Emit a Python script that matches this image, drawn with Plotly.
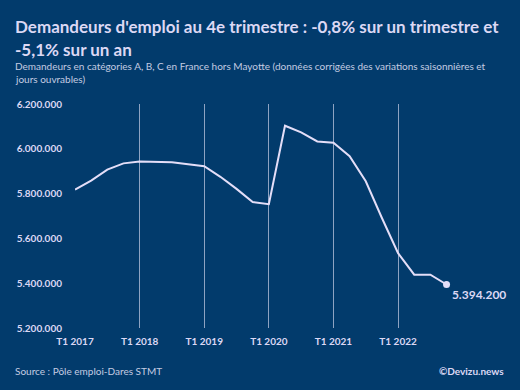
import plotly.graph_objects as go

quarters = [f"T{q} {y}" for y in range(2017, 2023) for q in range(1, 5)]
values = [5818000, 5858000, 5907000, 5935000, 5943000, 5940000, 5940000, 5931000,
          5922000, 5875000, 5821000, 5762000, 5753000, 6103000, 6073000, 6033000,
          6027000, 5967000, 5855000, 5691000, 5534000, 5438000, 5438000, 5394200]
tick_labels = ["T1 2017", "T1 2018", "T1 2019", "T1 2020", "T1 2021", "T1 2022"]
y_ticks = [5200000, 5400000, 5600000, 5800000, 6000000, 6200000]

BG = "#023b6c"
LINE = "#e4def8"
TXT = "#dcd8f4"
FONT = "Lato"

fig = go.Figure()
fig.add_trace(go.Scatter(x=quarters, y=values, mode="lines",
                         line=dict(color=LINE, width=2), hoverinfo="skip"))
fig.add_trace(go.Scatter(x=[quarters[-1]], y=[values[-1]], mode="markers+text",
                         marker=dict(color=LINE, size=7),
                         text=["5.394.200"], textposition="bottom right",
                         textfont=dict(family=FONT, size=12, color=TXT, weight="bold"),
                         cliponaxis=False, hoverinfo="skip"))

W, H = 520, 390
ml, mr, mt, mb = 75, 25, 104, 62
pw = W - ml - mr
ph = H - mt - mb

def px(x):
    return (x - ml) / pw

def py(y):
    return (H - mb - y) / ph

def note(text, x, y, size, color, bold=False, xanchor="left", yanchor="middle"):
    return dict(xref="paper", yref="paper", x=px(x), y=py(y), xanchor=xanchor,
                yanchor=yanchor, align="left", showarrow=False, text=text,
                borderpad=0,
                font=dict(family=FONT, size=size, color=color,
                          weight="bold" if bold else "normal"))

fig.update_layout(
    width=W, height=H,
    margin=dict(l=ml, r=mr, t=mt, b=mb, autoexpand=False),
    paper_bgcolor=BG, plot_bgcolor=BG,
    showlegend=False,
    separators=",.",
    font=dict(family=FONT, color=TXT),
    xaxis=dict(type="category", categoryorder="array", categoryarray=quarters,
               range=[0, 26], tickvals=tick_labels, ticktext=tick_labels,
               showgrid=True, gridcolor="#8ea3c2", gridwidth=1, automargin=False,
               zeroline=False, showline=False, ticks="", ticklabelstandoff=6,
               tickfont=dict(family=FONT, size=10, color=TXT, weight="bold")),
    yaxis=dict(range=[5200000, 6200000], tickvals=y_ticks, tickformat=",d",
               showgrid=False, zeroline=False, showline=False, ticks="",
               ticklabelstandoff=12, automargin=False,
               tickfont=dict(family=FONT, size=10, color=TXT, weight="bold")),
    annotations=[
        note("Demandeurs d'emploi au 4e trimestre : -0,8% sur un trimestre et", 14, 38, 17, TXT, True, yanchor="bottom"),
        note("-5,1% sur un an", 14, 38, 17, TXT, True, yanchor="top"),
        note("Demandeurs en catégories A, B, C en France hors Mayotte (données corrigées des variations saisonnières et", 14, 66, 10, "#c4cbe2"),
        note("jours ouvrables)", 14, 79, 10, "#c4cbe2"),
        note("Source : Pôle emploi-Dares STMT", 14, 371, 10, "#c4cbe2"),
        note("©Devizu.news", 505, 371, 10, TXT, True, "right"),
    ],
)

fig.write_html("out.html", config={"displayModeBar": False},
               post_script="document.body.style.margin='0';document.body.style.background='#023b6c';")
